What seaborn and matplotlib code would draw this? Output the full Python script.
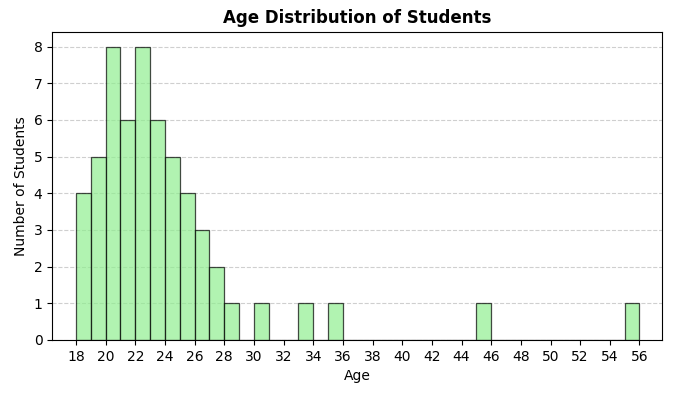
import numpy as np
import pandas as pd
import matplotlib
matplotlib.use("Agg")
import matplotlib.pyplot as plt
import seaborn as sns

# ages (one bin per year)
age_values = [18, 19, 20, 21, 22, 23, 24, 25, 26, 27, 28, 30, 33, 35, 45, 55]
age_counts = [4, 5, 8, 6, 8, 6, 5, 4, 3, 2, 1, 1, 1, 1, 1, 1]

ages = pd.DataFrame({'Age': np.repeat(age_values, age_counts)})

fig, ax = plt.subplots(figsize=(6.78, 3.93), dpi=100)
sns.histplot(data=ages, x='Age', bins=np.arange(18, 57), color='lightgreen',
             edgecolor=(0, 0, 0, 0.7), alpha=0.7, ax=ax)
ax.set_title('Age Distribution of Students', fontsize=12, fontweight='bold')
ax.set_xlabel('Age')
ax.set_ylabel('Number of Students')
ax.set_xticks(np.arange(18, 57, 2))
ax.set_xlim(16.4, 57.5)
ax.grid(axis='y', linestyle='--', alpha=0.6)
ax.set_axisbelow(True)
fig.subplots_adjust(left=0.077, right=0.976, top=0.919, bottom=0.135)
plt.savefig('out.png', dpi=100)
